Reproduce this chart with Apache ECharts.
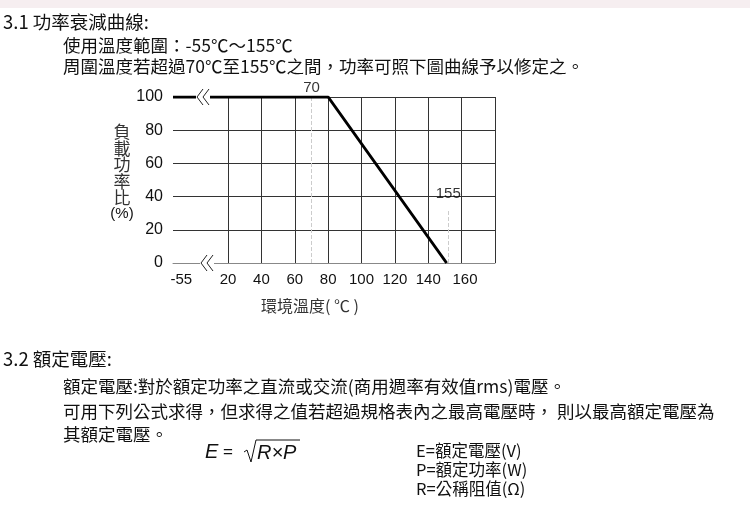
<!DOCTYPE html>
<html><head><meta charset="utf-8">
<script src="https://cdn.jsdelivr.net/npm/echarts@6/dist/echarts.min.js"></script>
<style>html,body{margin:0;padding:0;background:#fff}#c{width:750px;height:509px}</style>
</head><body><div id="c"></div>
<script>
// Derating curve (positions on an internal temperature scale matching the picture's grid)
const curveX = [-13, 80, 151];
const curveY = [100, 100, 0];
const gridXs = [-13, 20, 40, 60, 80, 100, 120, 140, 160, 180];
const tickPos = [-8, 20, 40, 60, 80, 100, 120, 140, 162];
const tickLabels = ['-55', '20', '40', '60', '80', '100', '120', '140', '160'];
const yTicks = [0, 20, 40, 60, 80, 100];
const kneeLabel = '70', kneeMarkX = 70;
const endLabel = '155', endMarkX = 152;

const CJK = '"Noto Sans CJK TC", "Noto Sans", sans-serif';
const chart = echarts.init(document.getElementById('c'));
function txt(x, y, s, size, extra) {
  return Object.assign({type: 'text', x: x, y: y, style: Object.assign({text: s, fill: '#111', font: size + 'px ' + CJK, textVerticalAlign: 'middle'}, extra || {})});
}
const lines = [];
lines.push({type:'rect', shape:{x:0,y:0,width:750,height:8}, style:{fill:'#f6eef0'}});
lines.push(txt(3, 22, '3.1 功率衰減曲線:', 18.5));
lines.push(txt(63, 45, '使用溫度範圍：-55℃～155℃', 17.5));
lines.push(txt(63, 66, '周圍溫度若超過70℃至155℃之間，功率可照下圖曲線予以修定之。', 17.5));
const yName = ['負','載','功','率','比'];
yName.forEach((c, i) => lines.push(txt(122, 132 + i * 16.5, c, 17, {textAlign: 'center', fill: '#333'})));
lines.push(txt(122, 214, '(%)', 15, {textAlign: 'center', font: '15px Arial, "Liberation Sans", sans-serif'}));
lines.push(txt(310, 306, '環境溫度( ℃ )', 16, {textAlign: 'center', fill: '#333'}));
lines.push(txt(3, 359, '3.2 額定電壓:', 18.5));
lines.push(txt(63, 386, '額定電壓:對於額定功率之直流或交流(商用週率有效值rms)電壓。', 17.5));
lines.push(txt(63, 411, '可用下列公式求得，但求得之值若超過規格表內之最高電壓時， 則以最高額定電壓為', 17.5));
lines.push(txt(63, 434, '其額定電壓。', 17.5));
lines.push(txt(205, 452, 'E', 20, {font: 'italic 20px "Liberation Sans", Arial, sans-serif'}));
lines.push(txt(223, 452, '=', 17, {font: '17px "Liberation Sans", Arial, sans-serif'}));
lines.push({type:'polyline', shape:{points:[[244,452],[247,450],[251,462],[256,440],[300,440]]}, style:{stroke:'#111', lineWidth:1, fill:null}});
lines.push(txt(257, 453, 'R×P', 20, {font: 'italic 20px "Liberation Sans", Arial, sans-serif'}));
lines.push(txt(416, 451, 'E=額定電壓(V)', 16.5));
lines.push(txt(416, 470, 'P=額定功率(W)', 16.5));
lines.push(txt(416, 489, 'R=公稱阻值(Ω)', 16.5));
function brk(x, y) {
  lines.push({type:'rect', shape:{x:x-3,y:y-3,width:14,height:6}, style:{fill:'#fff'}, z: 10});
  lines.push({type:'polyline', shape:{points:[[x+4,y-8],[x-2,y],[x+4,y+8]]}, style:{stroke:'#222', lineWidth:1, fill:null}, z: 11});
  lines.push({type:'polyline', shape:{points:[[x+10,y-8],[x+4,y],[x+10,y+8]]}, style:{stroke:'#222', lineWidth:1, fill:null}, z: 11});
}
brk(199, 97); brk(203, 263);

chart.setOption({
  animation: false,
  grid: {left: 173, right: 255, top: 97, bottom: 246},
  xAxis: {type: 'value', min: -13, max: 180,
    splitLine: {show: false}, axisTick: {show: false},
    axisLine: {lineStyle: {color: '#888', width: 1}},
    axisLabel: {customValues: tickPos, color: '#111', fontSize: 15, fontFamily: 'Arial, "Liberation Sans"', margin: 9,
      formatter: v => tickLabels[tickPos.indexOf(v)]}},
  yAxis: {type: 'value', min: 0, max: 100, interval: 20,
    axisLine: {show: false}, axisTick: {show: false},
    splitLine: {lineStyle: {color: '#333', width: 1}},
    axisLabel: {color: '#111', fontSize: 16, fontFamily: 'Arial, "Liberation Sans"', margin: 10}},
  graphic: lines,
  series: [
    {type: 'line', data: curveX.map((x, i) => [x, curveY[i]]), symbol: 'none',
      lineStyle: {color: '#000', width: 3}, z: 5,
      markLine: {silent: true, symbol: 'none', label: {show: false},
        lineStyle: {color: '#333', width: 1, type: 'solid'},
        data: gridXs.slice(1).map(x => ({xAxis: x}))}},
    {type: 'line', data: [], markLine: {silent: true, symbol: 'none',
      data: [
        [{coord: [kneeMarkX, 0], lineStyle: {color: '#ccc', type: 'dashed', width: 1}}, {coord: [kneeMarkX, 100]}],
        [{coord: [endMarkX, 0], lineStyle: {color: '#ccc', type: 'dashed', width: 1}}, {coord: [endMarkX, 32]}]
      ], label: {show: false}}},
    {type: 'scatter', symbolSize: 1, itemStyle: {color: 'rgba(0,0,0,0)'}, data: [[kneeMarkX, 100, kneeLabel], [endMarkX, 36, endLabel]],
      label: {show: true, position: 'top', distance: 1, formatter: p => p.data[2], color: '#000', fontSize: 15, fontFamily: 'Arial, "Liberation Sans"'}}
  ]
});
</script></body></html>
